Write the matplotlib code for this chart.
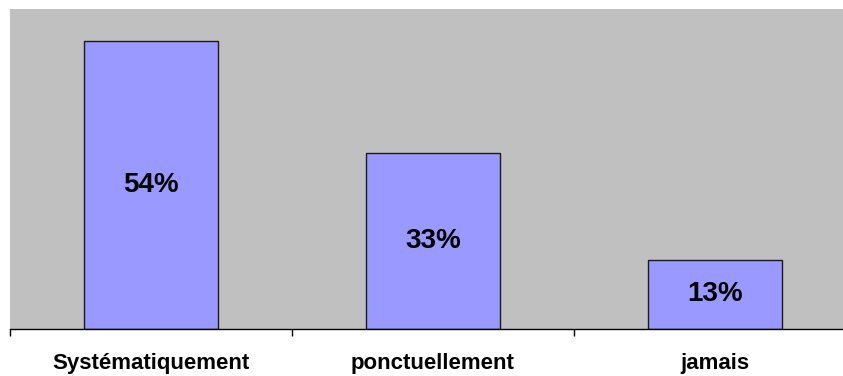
import matplotlib.pyplot as plt
import matplotlib.transforms as mtransforms
from matplotlib.ticker import FixedLocator, NullFormatter

plt.rcParams['font.family'] = ['Liberation Sans', 'DejaVu Sans']

categories = ['Systématiquement', 'ponctuellement', 'jamais']
shares = [54, 33, 13]

W, H = 843, 376
fig = plt.figure(figsize=(W / 100, H / 100), dpi=100)

# plot area runs slightly past the right edge of the canvas
left, right, top, bottom = 10, 856, 9, 329
ax = fig.add_axes([left / W, (H - bottom) / H, (right - left) / W, (bottom - top) / H])
ax.set_facecolor('#C0C0C0')

pos = [i + 0.5 for i in range(len(categories))]
ax.bar(pos, shares, width=0.478, color='#9999FF', edgecolor='#1a1a1a', linewidth=1.0, zorder=2)

for x, v in zip(pos, shares):
    ax.text(x, v / 2, f'{v}%', ha='center', va='center', fontsize=20, fontweight='bold', zorder=3)

ax.set_xlim(0, len(categories))
ax.set_ylim(0, 60)

# boundary ticks between categories
ax.xaxis.set_major_locator(FixedLocator(range(len(categories) + 1)))
ax.xaxis.set_major_formatter(NullFormatter())
ax.tick_params(axis='x', which='major', direction='out', length=5, width=1, color='black')

# category names centred under each bar, baseline near the bottom edge
trans = mtransforms.blended_transform_factory(ax.transData, fig.transFigure)
for x, name in zip(pos, categories):
    ax.text(x, 6.5 / H, name, transform=trans, ha='center', va='baseline',
            fontsize=16, fontweight='bold', clip_on=False)

ax.set_yticks([])
for side in ['top', 'right', 'left']:
    ax.spines[side].set_visible(False)
ax.spines['bottom'].set_color('black')
ax.spines['bottom'].set_linewidth(1)

fig.savefig('out.png', dpi=100)
